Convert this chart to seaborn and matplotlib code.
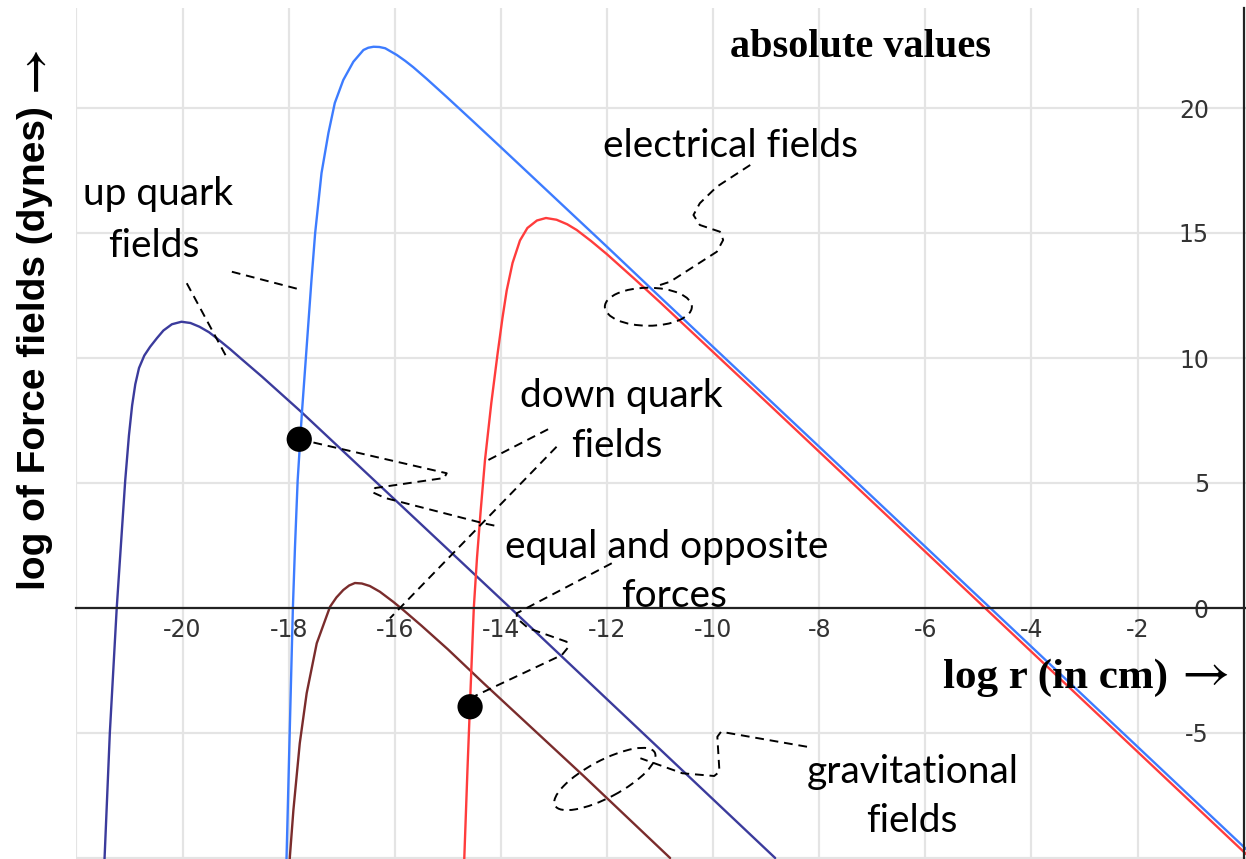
import matplotlib
matplotlib.use("Agg")
import matplotlib.pyplot as plt
from matplotlib.patches import Ellipse
from matplotlib.transforms import ScaledTranslation
import seaborn as sns

# ---- curves: log10 r (cm) against log10 |F| (dynes) ----
up_elec_logr = [-18.04, -17.98, -17.92, -17.88, -17.83, -17.75, -17.66, -17.57, -17.50,
                -17.38, -17.25, -17.13, -16.97, -16.78, -16.59, -16.50, -16.40, -16.29,
                -16.18, -15.96, -15.80, -15.65, -15.40, -15.02, -14.50, -14.02, -12.00,
                -10.94, -8.00, -4.75, 0.05]
up_elec_logf = [-10.05, -5.0, 0.0, 2.45, 5.1, 7.8, 10.45, 13.1, 15.0,
                17.4, 19.0, 20.2, 21.12, 21.85, 22.32, 22.41, 22.45, 22.44,
                22.39, 22.12, 21.88, 21.63, 21.17, 20.44, 19.42, 18.47, 14.45,
                12.32, 6.45, -0.05, -9.65]

down_elec_logr = [-14.69, -14.63, -14.57, -14.51, -14.45, -14.38, -14.30, -14.18, -14.06,
                  -13.97, -13.89, -13.78, -13.64, -13.50, -13.32, -13.15, -12.95, -12.75,
                  -12.57, -12.30, -12.00, -11.50, -11.00, -8.93, -4.84, 0.05]
down_elec_logf = [-10.05, -6.5, -3.2, 0.0, 2.0, 3.9, 5.9, 8.2, 10.2,
                  11.6, 12.7, 13.8, 14.7, 15.2, 15.5, 15.6, 15.53, 15.35,
                  15.12, 14.68, 14.15, 13.2, 12.23, 8.11, -0.07, -9.85]

up_grav_logr = [-21.47, -21.37, -21.24, -21.08, -21.01, -20.95, -20.89, -20.82, -20.72,
                -20.61, -20.48, -20.36, -20.20, -20.02, -19.85, -19.68, -19.50, -19.36,
                -19.10, -18.90, -18.50, -17.75, -13.82, -8.83]
up_grav_logf = [-10.05, -5.0, 0.0, 5.1, 6.9, 8.1, 8.95, 9.6, 10.1,
                10.45, 10.8, 11.1, 11.35, 11.45, 11.4, 11.25, 11.03, 10.8,
                10.35, 9.98, 9.25, 7.82, 0.0, -10.0]

down_grav_logr = [-17.98, -17.91, -17.79, -17.66, -17.47, -17.22, -17.10, -16.97, -16.86,
                  -16.75, -16.62, -16.47, -16.28, -16.03, -15.84, -15.50, -15.00, -14.33,
                  -12.45, -10.81]
down_grav_logf = [-10.05, -8.08, -5.41, -3.41, -1.41, 0.05, 0.42, 0.72, 0.9,
                  1.0, 0.98, 0.88, 0.65, 0.25, -0.08, -0.7, -1.65, -3.0,
                  -6.7, -10.0]

# points where the opposing forces balance
equal_logr = [-17.80, -14.58]
equal_logf = [6.75, -3.95]

x_ticks = [-22, -20, -18, -16, -14, -12, -10, -8, -6, -4, -2]
x_tick_labels = ["", "-20", "-18", "-16", "-14", "-12", "-10", "-8", "-6", "-4", "-2"]
y_ticks = [-10, -5, 0, 5, 10, 15, 20]
y_tick_labels = ["", "-5", "0", "5", "10", "15", "20"]

BLUE = "#3d7cff"
RED = "#ff3c3c"
INDIGO = "#3b3b9c"
MAROON = "#7a2c2c"

sns.set_style("white")
plt.rcParams["axes.unicode_minus"] = False
plt.rcParams["font.family"] = ["DejaVu Sans"]

fig = plt.figure(figsize=(12.46, 8.59), dpi=100)
ax = fig.add_axes([76.4 / 1246, 0.0, 1 - 76.4 / 1246, 851 / 859])

for xs, ys, col in [(up_grav_logr, up_grav_logf, INDIGO),
                    (down_grav_logr, down_grav_logf, MAROON),
                    (down_elec_logr, down_elec_logf, RED),
                    (up_elec_logr, up_elec_logf, BLUE)]:
    sns.lineplot(x=xs, y=ys, sort=False, estimator=None, color=col,
                 linewidth=1.7, ax=ax, zorder=3)

sns.scatterplot(x=equal_logr, y=equal_logf, color="black", s=330,
                edgecolor="none", ax=ax, zorder=6)

ax.set_xlim(-22, 0.044)
ax.set_ylim(-10.04, 24.0)

# axes crossing through the origin
for side in ["top", "right"]:
    ax.spines[side].set_visible(False)
ax.spines["bottom"].set_position(("data", 0))
ax.spines["left"].set_position(("data", 0))
for side in ["bottom", "left"]:
    ax.spines[side].set_color("#222222")
    ax.spines[side].set_linewidth(1.6)
    ax.spines[side].set_zorder(4)

ax.set_xticks(x_ticks, x_tick_labels)
ax.set_yticks(y_ticks, y_tick_labels)
ax.tick_params(axis="x", direction="inout", length=12, width=1.5, color="#333333",
               labelsize=17, labelcolor="#333333", pad=1)
ax.tick_params(axis="y", direction="out", length=8, width=1.5, color="#333333",
               labelsize=17, labelcolor="#333333", pad=17)
ax.grid(True, color="#e4e4e4", linewidth=1.6)
ax.set_axisbelow(True)
ax.set_xlabel("")
ax.set_ylabel("")

# ---- dashed leader lines ----
dash = dict(color="black", linewidth=1.4, linestyle=(0, (4.5, 3)), zorder=5)
leaders = [
    ([-19.07, -17.75], [13.45, 12.72]),
    ([-19.92, -19.14], [12.99, 9.92]),
    ([-9.30, -9.93, -10.25, -10.37, -10.25, -9.87, -9.81, -9.93, -10.37, -10.81, -11.00],
     [17.72, 16.85, 16.19, 15.72, 15.32, 15.05, 14.72, 14.25, 13.65, 13.05, 12.92]),
    ([-17.80, -15.02, -15.07, -16.37, -16.43, -16.18, -14.33, -14.02],
     [6.75, 5.39, 5.20, 4.80, 4.64, 4.40, 3.39, 3.25]),
    ([-13.11, -14.30], [7.15, 5.85]),
    ([-12.95, -16.09], [6.45, -0.41]),
    ([-11.91, -13.70, -13.70, -13.48, -12.76, -12.73, -12.85, -14.52],
     [1.79, -0.21, -0.41, -0.81, -1.35, -1.57, -1.88, -3.55]),
    ([-8.23, -9.85, -9.92, -9.88, -9.98, -10.58, -11.37],
     [-5.55, -4.95, -5.15, -6.55, -6.72, -6.61, -6.01]),
]
for xs, ys in leaders:
    ax.plot(xs, ys, **dash)

for (cx, cy), w, h, ang in [((-11.22, 12.05), 0.87, 0.38, 0),
                            ((-12.04, -6.84), 1.13, 0.37, 28)]:
    tr = fig.dpi_scale_trans + ScaledTranslation(cx, cy, ax.transData)
    ax.add_patch(Ellipse((0, 0), w, h, angle=ang, transform=tr, fill=False,
                         edgecolor="black", linewidth=1.4, linestyle=(0, (4.5, 3)),
                         zorder=5))

# ---- labels ----
lab = dict(fontsize=28, family=["Lato", "DejaVu Sans"], ha="center", va="baseline",
           color="black", zorder=7)
ax.text(-9.67, 18.05, "electrical fields", **lab)
ax.text(-20.46, 16.12, "up quark", **lab)
ax.text(-20.54, 14.04, "fields", **lab)
ax.text(-11.72, 8.05, "down quark", **lab)
ax.text(-11.82, 6.05, "fields", **lab)
ax.text(-10.88, 1.99, "equal and opposite", **lab)
ax.text(-10.74, 0.05, "forces", **lab)
ax.text(-6.23, -7.01, "gravitational", **lab)
ax.text(-6.25, -8.95, "fields", **lab)

serif_bold = dict(family=["Liberation Serif", "DejaVu Serif"], fontweight="bold",
                  va="baseline", color="black", zorder=7)
ax.text(-7.23, 22.04, "absolute values", fontsize=29, ha="center", **serif_bold)
ax.text(-5.667, -3.21, "log r (in cm)", fontsize=31, ha="left", **serif_bold)
ax.text(-0.72, -3.21, "\u2192", fontsize=38, ha="center", va="baseline",
        family=["STIXGeneral", "DejaVu Sans"], color="black", zorder=7)

ylab = dict(rotation=90, fontsize=28, fontweight="bold", color="black")
fig.text(35 / 1246, 1 - 590 / 859, "log of Force fields (dynes)", ha="center", va="bottom",
         family=["Liberation Sans", "DejaVu Sans"], **ylab)
fig.text(35 / 1246, 1 - 68 / 859, "\u2192", ha="center", va="center",
         family=["STIXGeneral", "DejaVu Sans"], rotation=90, fontsize=34,
         fontweight="bold", color="black")

fig.savefig("out.png", dpi=100)
